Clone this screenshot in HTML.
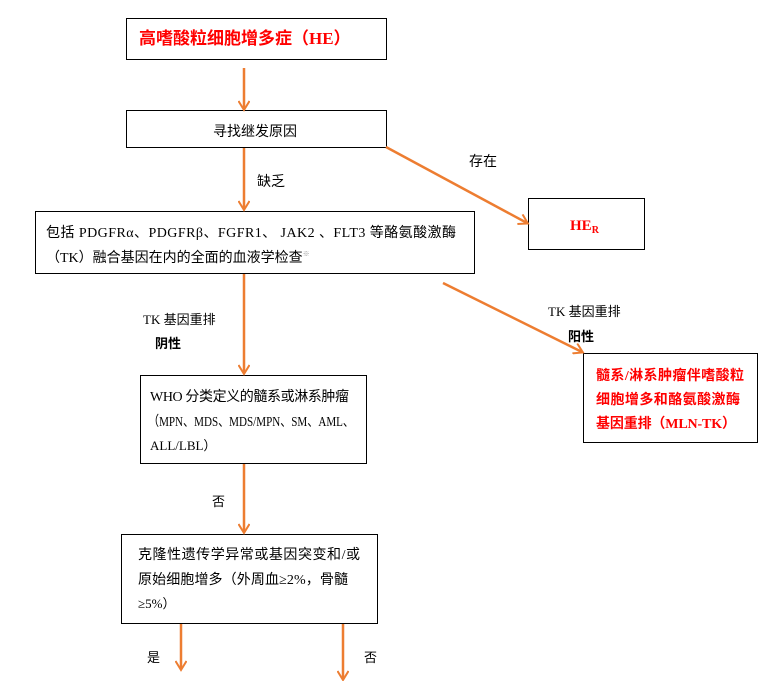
<!DOCTYPE html>
<html><head><meta charset="utf-8"><style>
html,body{margin:0;padding:0;background:#fff;}
svg{display:block;}
text{font-family:"Liberation Serif","Noto Sans CJK SC",serif;}
.s{font-family:"Liberation Sans","Noto Sans CJK SC",sans-serif;}
</style></head><body>
<svg width="781" height="681" viewBox="0 0 781 681" xmlns="http://www.w3.org/2000/svg">
<defs>
<marker id="a" markerWidth="12" markerHeight="12" refX="9" refY="6" orient="auto" markerUnits="userSpaceOnUse">
<path d="M1,0.5 L10,6 L1,11.5" fill="none" stroke="#ED7D31" stroke-width="2"/>
</marker>
</defs>
<g fill="none" stroke="#000" stroke-width="1">
<rect x="126.5" y="18.5" width="260" height="41"/>
<rect x="126.5" y="110.5" width="260" height="37"/>
<rect x="35.5" y="211.5" width="439" height="62"/>
<rect x="528.5" y="198.5" width="116" height="51"/>
<rect x="583.5" y="353.5" width="174" height="89"/>
<rect x="140.5" y="375.5" width="226" height="88"/>
<rect x="121.5" y="534.5" width="256" height="89"/>
</g>
<g stroke="#ED7D31" stroke-width="2.5" fill="none" marker-end="url(#a)">
<line x1="244" y1="68" x2="244" y2="109"/>
<line x1="244" y1="148" x2="244" y2="209"/>
<line x1="386" y1="147" x2="527" y2="223"/>
<line x1="244" y1="274" x2="244" y2="373"/>
<line x1="443" y1="283" x2="582" y2="352"/>
<line x1="244" y1="464" x2="244" y2="532"/>
<line x1="181" y1="624" x2="181" y2="669"/>
<line x1="343" y1="624" x2="343" y2="679"/>
</g>
<text x="139" y="44" fill="#f00" font-size="17" font-weight="bold">高嗜酸粒细胞增多症（HE）</text>
<text class="s" x="213" y="136" font-size="14">寻找继发原因</text>
<text class="s" x="257" y="186" font-size="14">缺乏</text>
<text class="s" x="469" y="166" font-size="14">存在</text>
<text x="46" y="237" font-size="14" textLength="410">包括 PDGFRα、PDGFRβ、FGFR1、 JAK2 、FLT3 等酪氨酸激酶</text>
<text x="46" y="262" font-size="14">（TK）融合基因在内的全面的血液学检查<tspan font-size="7" fill="#999" dy="-6">※</tspan></text>
<text x="570" y="230" fill="#f00" font-size="15" font-weight="bold">HE<tspan font-size="10" dy="3">R</tspan></text>
<text x="143" y="324" font-size="13">TK 基因重排</text>
<text x="155" y="348" font-size="13" font-weight="bold">阴性</text>
<text x="548" y="316" font-size="13">TK 基因重排</text>
<text x="568" y="341" font-size="13" font-weight="bold">阳性</text>
<g fill="#f00" font-size="14" font-weight="bold">
<text x="596" y="380" textLength="148">髓系/淋系肿瘤伴嗜酸粒</text>
<text x="596" y="404" textLength="144">细胞增多和酪氨酸激酶</text>
<text x="596" y="428" textLength="140">基因重排（MLN-TK）</text>
</g>
<g font-size="14">
<text x="150" y="401" textLength="199">WHO 分类定义的髓系或淋系肿瘤</text>
<text x="148" y="426" textLength="206" lengthAdjust="spacingAndGlyphs">（MPN、MDS、MDS/MPN、SM、AML、</text>
<text x="150" y="450" font-size="13">ALL/LBL）</text>
<text x="212" y="506" font-size="13">否</text>
<text x="138" y="559" textLength="222">克隆性遗传学异常或基因突变和/或</text>
<text x="138" y="584" textLength="210">原始细胞增多（外周血≥2%，骨髓</text>
<text x="138" y="608" font-size="13">≥5%）</text>
<text x="147" y="662" font-size="13">是</text>
<text x="364" y="662" font-size="13">否</text>
</g>
</svg>
</body></html>
